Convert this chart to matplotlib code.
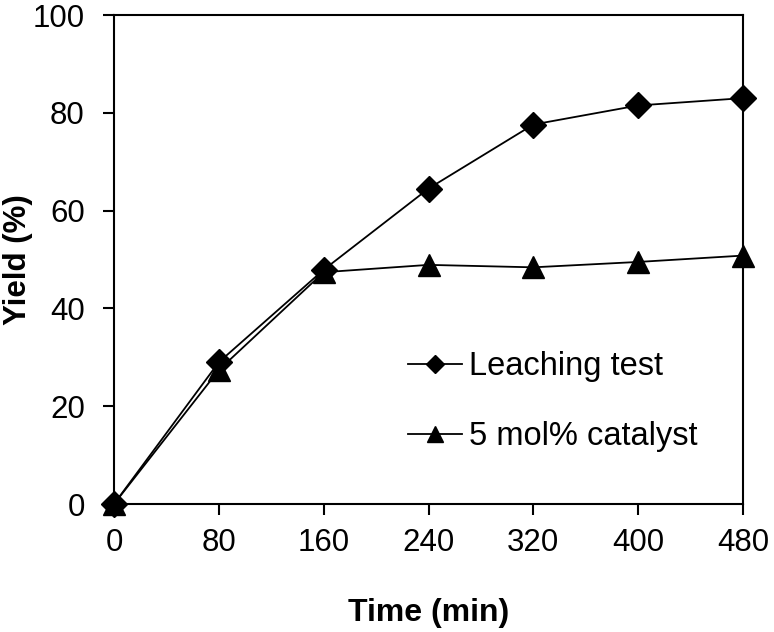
import matplotlib
matplotlib.use('Agg')
import matplotlib.pyplot as plt

plt.rcParams['font.family'] = ['Liberation Sans', 'DejaVu Sans']

time_min = [0, 80, 160, 240, 320, 400, 480]
leaching = [0, 29.0, 47.9, 64.5, 77.6, 81.5, 83.0]
catalyst = [0, 27.4, 47.4, 48.9, 48.4, 49.5, 50.8]
xticks = [0, 80, 160, 240, 320, 400, 480]
yticks = [0, 20, 40, 60, 80, 100]

fig = plt.figure(figsize=(7.74, 6.32), dpi=100)
ax = fig.add_axes([114/774, 1 - 504/632, 629/774, 489/632])

ax.plot(time_min, leaching, color='black', lw=1.3, marker='D', ms=13.5,
        clip_on=False, zorder=3, label='Leaching test')
ax.plot(time_min, catalyst, color='black', lw=1.3, marker='^', ms=16.5,
        clip_on=False, zorder=3, label='5 mol% catalyst')

ax.set_xlim(0, 480)
ax.set_ylim(0, 100)
ax.set_xticks(xticks)
ax.set_yticks(yticks)

for s in ax.spines.values():
    s.set_linewidth(1.5)
ax.tick_params(axis='both', direction='out', length=8, width=1.5, labelsize=22.5)
ax.tick_params(axis='x', pad=9)
ax.tick_params(axis='y', pad=13)

ax.set_xlabel('Time (min)', fontsize=23, fontweight='bold', va='center')
ax.set_ylabel('Yield (%)', fontsize=22.5, fontweight='bold', va='center')
ax.xaxis.set_label_coords(0.5, -0.222)
ax.yaxis.set_label_coords(-0.153, 0.5)

ax.legend(loc='upper left', bbox_to_anchor=(408/774, 1 - 351/632),
          bbox_transform=fig.transFigure, frameon=False, fontsize=23.5,
          borderpad=0, borderaxespad=0, handlelength=1.65, handletextpad=0.22,
          labelspacing=1.2, markerscale=0.7)

fig.savefig('out.png', dpi=100)
